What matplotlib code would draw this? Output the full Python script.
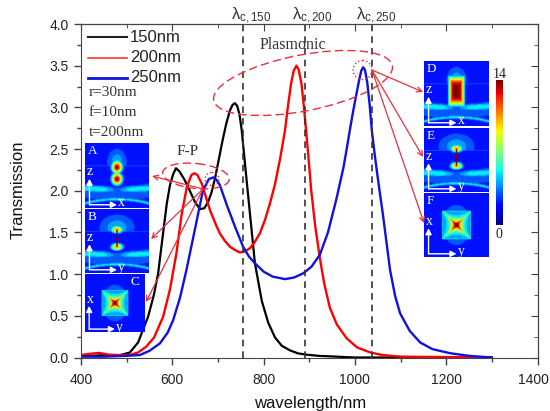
import numpy as np
import matplotlib
matplotlib.use('Agg')
import matplotlib.pyplot as plt
from matplotlib.patches import Ellipse
from matplotlib.ticker import MultipleLocator
from matplotlib.transforms import ScaledTranslation

W, H = 550, 411

# curves
wl_150 = [400, 425, 450, 480, 507, 525, 547, 560, 569, 580, 588, 595, 602, 608, 616, 628, 640, 650, 661, 670, 678, 686, 694, 702, 710, 718, 726, 732, 737, 742, 747, 752, 760, 770, 781, 796, 810, 825, 840, 858, 875, 891, 920, 960, 1000, 1100, 1300]
t_150 = [0.02, 0.02, 0.03, 0.02, 0.06, 0.18, 0.49, 0.76, 1.01, 1.5, 1.85, 2.07, 2.2, 2.27, 2.23, 2.12, 1.98, 1.86, 1.78, 1.79, 1.86, 1.98, 2.16, 2.38, 2.6, 2.8, 2.96, 3.03, 3.05, 3.02, 2.92, 2.73, 2.28, 1.73, 1.13, 0.68, 0.42, 0.24, 0.14, 0.085, 0.05, 0.036, 0.02, 0.01, 0.0, 0.0, 0.0]
wl_200 = [400, 420, 440, 460, 480, 507, 525, 543, 560, 580, 595, 609, 620, 632, 642, 648, 655, 665, 675, 683, 695, 704, 715, 726, 737, 748, 758, 770, 780, 792, 803, 814, 825, 836, 847, 853, 860, 866, 872, 877, 883, 888, 893, 899, 904, 913, 923, 933, 945, 960, 982, 1005, 1034, 1060, 1100, 1200, 1300]
t_200 = [0.03, 0.045, 0.055, 0.035, 0.03, 0.03, 0.06, 0.13, 0.24, 0.49, 0.82, 1.25, 1.7, 2.05, 2.19, 2.21, 2.19, 2.08, 1.9, 1.76, 1.6, 1.49, 1.4, 1.33, 1.29, 1.26, 1.27, 1.31, 1.38, 1.49, 1.65, 1.85, 2.08, 2.38, 2.73, 3.0, 3.28, 3.44, 3.5, 3.45, 3.28, 3.02, 2.73, 2.35, 2.02, 1.58, 1.2, 0.88, 0.6, 0.4, 0.23, 0.12, 0.06, 0.03, 0.01, 0.005, 0.0]
wl_250 = [400, 450, 500, 529, 550, 573, 590, 602, 617, 631, 650, 667, 680, 690, 697, 704, 720, 738, 755, 768, 781, 800, 820, 847, 867, 887, 905, 923, 941, 959, 975, 982, 989, 996, 1003, 1009, 1014, 1018, 1022, 1027, 1032, 1037, 1043, 1049, 1055, 1061, 1077, 1088, 1099, 1120, 1143, 1170, 1210, 1250, 1300]
t_250 = [0.01, 0.01, 0.02, 0.03, 0.08, 0.17, 0.3, 0.45, 0.72, 1.05, 1.55, 2.0, 2.14, 2.16, 2.13, 2.07, 1.82, 1.56, 1.33, 1.21, 1.13, 1.03, 0.97, 0.94, 0.96, 1.01, 1.09, 1.23, 1.5, 1.89, 2.28, 2.5, 2.73, 2.95, 3.15, 3.32, 3.44, 3.48, 3.45, 3.3, 3.05, 2.73, 2.45, 2.2, 1.96, 1.73, 1.05, 0.74, 0.53, 0.32, 0.18, 0.1, 0.05, 0.02, 0.0]

cutoffs = [755, 891, 1038]
cutoff_labels = ['150', '200', '250']
params = ['r=30nm', 'f=10nm', 't=200nm']

plt.rcParams['font.family'] = ['Liberation Sans', 'DejaVu Sans']
plt.rcParams['mathtext.fontset'] = 'stix'

fig = plt.figure(figsize=(W / 100, H / 100), dpi=100)
ax = fig.add_axes([81 / W, 1 - 357.5 / H, 456.5 / W, 333.5 / H])

ax.plot(wl_150, t_150, color='black', lw=1.6)
ax.plot(wl_200, t_200, color='#ff0000', lw=1.7)
ax.plot(wl_250, t_250, color='#1010e0', lw=1.7)
for c in cutoffs:
    ax.plot([c, c], [0, 4.0], color='#333333', lw=1.2, ls=(0, (4, 3)))

ax.set_xlim(400, 1400)
ax.set_ylim(0, 4)
ax.xaxis.set_major_locator(MultipleLocator(200))
ax.xaxis.set_minor_locator(MultipleLocator(100))
ax.yaxis.set_major_locator(MultipleLocator(0.5))
ax.yaxis.set_minor_locator(MultipleLocator(0.25))
ax.tick_params(which='major', length=5, width=1, labelsize=10, color='#444444', labelcolor='#222222')
ax.tick_params(which='minor', length=3, width=1, color='#444444')
ax.tick_params(axis='x', pad=6)
ax.tick_params(axis='y', pad=4)
ax.set_yticks(np.arange(0, 4.5, 0.5))
ax.set_yticklabels([f'{v:.1f}' for v in np.arange(0, 4.5, 0.5)])

# keep the last x label inside the figure
fig.canvas.draw()
last = [t for t in ax.get_xticklabels() if t.get_text() == '1400'][0]
last.set_transform(last.get_transform() + ScaledTranslation(-4 / 100, 0, fig.dpi_scale_trans))

# mirrored ticks point inwards on top and right
top = ax.secondary_xaxis('top')
top.xaxis.set_major_locator(MultipleLocator(200))
top.xaxis.set_minor_locator(MultipleLocator(100))
top.tick_params(which='major', direction='in', length=5, labeltop=False, color='#444444')
top.tick_params(which='minor', direction='in', length=3, color='#444444')
right = ax.secondary_yaxis('right')
right.yaxis.set_major_locator(MultipleLocator(0.5))
right.yaxis.set_minor_locator(MultipleLocator(0.25))
right.tick_params(which='major', direction='in', length=5, labelright=False, color='#444444')
right.tick_params(which='minor', direction='in', length=3, color='#444444')

for s in ax.spines.values():
    s.set_color('#444444')

# legend rows
legend_names = ['150nm', '200nm', '250nm']
legend_colors = ['#222222', '#ff2020', '#1010e0']
legend_lw = [1.5, 1.1, 2.0]

# overlay in pixel coordinates for the annotations
ov = fig.add_axes([0, 0, 1, 1], facecolor='none')
ov.set_xlim(0, W)
ov.set_ylim(H, 0)
ov.axis('off')
ov.set_zorder(5)

for y, name, col, lw in zip([37, 58, 78], legend_names, legend_colors, legend_lw):
    ov.plot([88, 127], [y, y], color=col, lw=lw)
    ov.text(130, y, name, fontsize=12, va='center', color='#222222')

ov.text(18, 190, 'Transmission', rotation=90, ha='center', va='center', fontsize=12, color='#111111')
ov.text(310, 403, 'wavelength/nm', ha='center', va='center', fontsize=12, color='#111111')

serif = ['Liberation Serif', 'DejaVu Serif']
for x, lab in zip([251, 312, 376], cutoff_labels):
    ov.text(x, 16, r'$\mathregular{\lambda_{c,%s}}$' % lab, ha='center', va='center', fontsize=12, color='#333333')
for y, p in zip([93, 112, 132], params):
    ov.text(89, y, p, family=serif, fontsize=11, va='center', color='#333333')
ov.text(293, 45, 'Plasmonic', family=serif, fontsize=11.5, ha='center', va='center', color='#333333')
ov.text(188, 151, 'F-P', family=serif, fontsize=11, ha='center', va='center', color='#333333')

red = '#e8303c'
ov.add_patch(Ellipse((303, 83), 182, 56, angle=-11, fill=False, ec=red, lw=1, ls=(0, (6, 3))))
ov.add_patch(Ellipse((196, 176), 67, 25, angle=6, fill=False, ec=red, lw=1, ls=(0, (6, 3))))
ov.add_patch(Ellipse((362.5, 70), 19, 19, fill=False, ec=red, lw=1, ls=':'))
ov.add_patch(Ellipse((212, 179), 14, 13, fill=False, ec=red, lw=1, ls=':'))


def arrow(a, tail, tip, color=red, lw=0.9):
    a.annotate('', xy=tip, xytext=tail,
               arrowprops=dict(arrowstyle='->', color=color, lw=lw, shrinkA=0, shrinkB=0, mutation_scale=9))


for tip in [(423, 92), (423, 157), (424, 223)]:
    arrow(ov, (372, 70), tip)
for tip in [(152, 176), (151, 239), (146, 302)]:
    arrow(ov, (203, 189), tip)


def field_side(kind, n=90):
    u, v = np.meshgrid(np.linspace(-0.5, 0.5, n), np.linspace(0, 1, n))
    f = np.full(u.shape, 0.16)
    # substrate glow, soft wide layer then cyan near the edges
    f = np.maximum(f, 0.25 * np.exp(-((v - 0.8 + 0.12 * np.abs(u)) / 0.14) ** 4))
    band = 0.38 * np.exp(-((v - 0.73 + 0.05 * np.abs(u)) / 0.07) ** 2) * np.minimum(0.55 + 2 * np.abs(u), 1)
    f = np.maximum(f, band)
    f = np.maximum(f, 0.34 * np.exp(-((v - 0.87 - 0.25 * u ** 2) / 0.035) ** 2))
    # dome above the hole
    wide = 0.2 if kind in 'AD' else 0.36
    f = np.maximum(f, 0.22 * np.exp(-((np.hypot(u / wide, (v - 0.3) / 0.26)) ** 6)))
    f = np.maximum(f, 0.28 * np.exp(-((np.hypot(u / (wide * 0.6), (v - 0.3) / 0.16)) ** 6)))
    # blue slab across the middle
    f = np.where((v > 0.36) & (v < 0.58), 0.14, f)
    f = np.where(np.abs(v - 0.36) < 0.008, 0.2, f)
    if kind == 'A':
        for v0 in (0.38, 0.56):
            f = np.maximum(f, 1.0 * np.exp(-(np.hypot(u / 0.085, (v - v0) / 0.095)) ** 2))
    elif kind == 'D':
        f = np.maximum(f, 1.0 * np.exp(-(np.maximum(np.abs(u) / 0.12, np.abs(v - 0.47) / 0.22)) ** 4))
    else:
        for v0 in (0.33, 0.6):
            f = np.maximum(f, 0.75 * np.exp(-(np.hypot(u / 0.1, (v - v0) / 0.06)) ** 2))
        f = np.where((np.abs(u) < 0.012) & (v > 0.33) & (v < 0.6), 1.0, f)
    return f


def field_top(n=90):
    u, v = np.meshgrid(np.linspace(-0.5, 0.5, n), np.linspace(-0.5, 0.5, n))
    f = np.full(u.shape, 0.16)
    f = np.maximum(f, 0.23 * np.exp(-(np.hypot(u / 0.29, v / 0.4)) ** 6))
    box = np.maximum(np.abs(u), np.abs(v))
    s = np.sqrt(np.abs(u + v)) + np.sqrt(np.abs(u - v))
    star = 0.28 + 0.8 * np.exp(-(s / 0.55) ** 3)
    f = np.where(box < 0.23, star, f)
    f = np.where((box >= 0.215) & (box < 0.23), 0.36, f)
    return np.minimum(f, 1.0)


def inset(box, f, letter, ax_labels, letter_right=False):
    x0, y0, x1, y1 = box
    a = fig.add_axes([x0 / W, 1 - y1 / H, (x1 - x0) / W, (y1 - y0) / H])
    a.imshow(np.round(f * 14) / 14, cmap='jet', vmin=0, vmax=1, aspect='auto',
             extent=(0, 1, 1, 0), interpolation='bilinear')
    a.set_xlim(0, 1)
    a.set_ylim(1, 0)
    a.axis('off')
    lx = 0.76 if letter_right else 0.04
    a.text(lx, 0.13, letter, color='white', family=serif, fontsize=9.5, va='center')
    for tail, tip in [((0.07, 0.95), (0.5, 0.95)), ((0.07, 0.95), (0.07, 0.55))]:
        a.annotate('', xy=tip, xytext=tail, arrowprops=dict(arrowstyle='-|>', color='white', lw=1,
                                                           shrinkA=0, shrinkB=0, mutation_scale=9))
    a.text(0.52, 0.92, ax_labels[0], color='white', family=serif, fontsize=10, va='center')
    a.text(0.03, 0.44, ax_labels[1], color='white', family=serif, fontsize=10, va='center')


inset((85, 143, 149, 208), field_side('A'), 'A', ('x', 'z'))
inset((85, 209, 149, 273), field_side('B'), 'B', ('y', 'z'))
inset((85, 274, 145, 332), field_top(), 'C', ('y', 'x'), letter_right=True)
inset((424, 61, 489, 126), field_side('D'), 'D', ('x', 'z'))
inset((424, 128, 489, 192), field_side('E'), 'E', ('y', 'z'))
inset((424, 193, 489, 257), field_top(), 'F', ('y', 'x'))

cb = fig.add_axes([496 / W, 1 - 225 / H, 7 / W, 145 / H])
cb.imshow(np.linspace(1, 0, 64)[:, None], cmap='jet', aspect='auto')
cb.axis('off')
ov.text(500, 74, '14', family=serif, fontsize=10, ha='center', va='center', color='#222222')
ov.text(499, 234, '0', family=serif, fontsize=10, ha='center', va='center', color='#222222')

fig.savefig('out.png', dpi=100)
